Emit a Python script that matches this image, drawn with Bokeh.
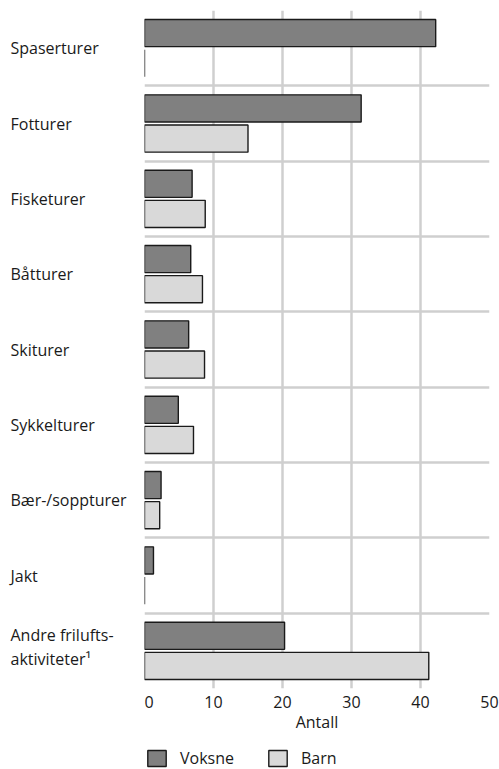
from bokeh.plotting import figure
from bokeh.layouts import row, column
from bokeh.models import (Range1d, FixedTicker, Legend, LegendItem,
                          ColumnDataSource)
from bokeh.core.properties import value
from bokeh.embed import file_html
from bokeh.resources import INLINE

categories = ["Spaserturer", "Fotturer", "Fisketurer", "Båtturer", "Skiturer",
              "Sykkelturer", "Bær-/soppturer", "Jakt",
              "Andre frilufts-\naktiviteter¹"]
voksne = [42.2, 31.4, 6.9, 6.7, 6.4, 4.9, 2.4, 1.3, 20.3]
barn = [0.0, 15.0, 8.8, 8.4, 8.7, 7.1, 2.2, 0.0, 41.2]
x_ticks = [0, 10, 20, 30, 40, 50]
series_names = ["Voksne", "Barn"]

FONT = "Open Sans"
FS = "16px"
DARK = "#808080"
LIGHT = "#d9d9d9"
EDGE = "#1a1a1a"
GRID = "#cfcfcf"
TXT = "#1a1a1a"

n = len(categories)
centers = [i + 0.5 for i in range(n)]
yr = Range1d(n, 0)

LEFT_W = 144
TOP = 10
BOTTOM = 57
MAIN_H = 745
RIGHT = 10
FRAME_W = 345

src_v = ColumnDataSource(dict(y=[c - 0.2 for c in centers], right=voksne))
src_b = ColumnDataSource(dict(y=[c + 0.2 for c in centers], right=barn))
bar_v = dict(fill_color=DARK, line_color=EDGE, line_width=1.4)
bar_b = dict(fill_color=LIGHT, line_color=EDGE, line_width=1.4)

# ---- main chart
p = figure(width=FRAME_W + RIGHT, height=MAIN_H, output_backend="svg",
           toolbar_location=None, x_range=Range1d(0, 50), y_range=yr,
           min_border_left=0, min_border_right=RIGHT, min_border_top=TOP,
           min_border_bottom=BOTTOM)
p.outline_line_color = None

p.hbar(y="y", left=0, right="right", height=0.36, source=src_v, **bar_v)
p.hbar(y="y", left=0, right="right", height=0.36, source=src_b, **bar_b)

p.xgrid.ticker = FixedTicker(ticks=x_ticks)
p.xgrid.grid_line_color = GRID
p.xgrid.grid_line_width = 2.5
p.ygrid.ticker = FixedTicker(ticks=list(range(n + 1)))
p.ygrid.grid_line_color = GRID
p.ygrid.grid_line_width = 2.5

p.yaxis.visible = False
p.xaxis.ticker = FixedTicker(ticks=x_ticks)
p.xaxis.axis_line_color = None
p.xaxis.major_tick_line_color = None
p.xaxis.minor_tick_line_color = None
p.xaxis.major_label_standoff = 1
p.xaxis.major_label_text_font = FONT
p.xaxis.major_label_text_font_size = FS
p.xaxis.major_label_text_color = TXT
p.xaxis.axis_label = "Antall"
p.xaxis.axis_label_standoff = 0
p.xaxis.axis_label_text_font = FONT
p.xaxis.axis_label_text_font_size = FS
p.xaxis.axis_label_text_font_style = "normal"
p.xaxis.axis_label_text_color = TXT

# ---- category labels (left column)
q = figure(width=LEFT_W, height=MAIN_H, output_backend="svg",
           toolbar_location=None, x_range=Range1d(0, LEFT_W), y_range=yr,
           x_axis_type=None, y_axis_type=None,
           min_border_left=0, min_border_right=0, min_border_top=TOP,
           min_border_bottom=BOTTOM)
q.outline_line_color = None
q.grid.visible = False
single = [i for i, c in enumerate(categories) if "\n" not in c]
multi = [i for i, c in enumerate(categories) if "\n" in c]
q.text(x=10, y=[centers[i] for i in single],
       text=[categories[i] for i in single], text_font=value(FONT),
       text_font_size=FS, text_color=TXT, text_align="left",
       text_baseline="middle")
q.text(x=10, y=[centers[i] for i in multi],
       text=[categories[i] for i in multi], text_font=value(FONT),
       text_font_size=FS, text_color=TXT, text_align="left",
       text_baseline="middle", text_line_height=1.1, y_offset=-4)

# ---- legend strip (same bar styles; these renderers are hidden, only the
# legend swatches are shown)
LEG_H = 769 - MAIN_H
g = figure(width=LEFT_W + FRAME_W + RIGHT, height=LEG_H, output_backend="svg",
           toolbar_location=None, x_range=Range1d(1000, 2000),
           y_range=Range1d(1000, 2000), x_axis_type=None, y_axis_type=None,
           min_border_left=0, min_border_right=0, min_border_top=0,
           min_border_bottom=0)
g.outline_line_color = None
g.grid.visible = False
lv = g.hbar(y="y", left=0, right="right", height=0.36, source=src_v, **bar_v)
lb = g.hbar(y="y", left=0, right="right", height=0.36, source=src_b, **bar_b)
lv.visible = False
lb.visible = False
legend = Legend(items=[LegendItem(label=series_names[0], renderers=[lv]),
                       LegendItem(label=series_names[1], renderers=[lb])],
                orientation="horizontal", location=(LEFT_W + 1, 0),
                glyph_width=23, glyph_height=20, label_standoff=12,
                spacing=32, padding=0, margin=0, label_height=20,
                label_text_font=FONT, label_text_font_size=FS,
                label_text_color=TXT, inactive_fill_alpha=0,
                border_line_color=None, background_fill_alpha=0)
g.add_layout(legend)

layout = column(row(q, p, spacing=0), g, spacing=0)
open("out.html", "w").write(file_html(layout, INLINE))
